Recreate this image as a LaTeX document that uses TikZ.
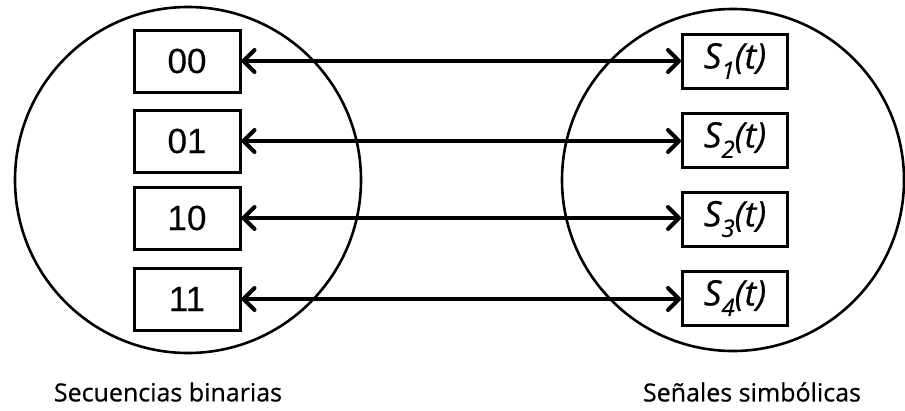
\documentclass[tikz,border=0pt]{standalone}
\usepackage{fontspec}
\setmainfont{Open Sans}[FakeBold=0.6]
\newfontfamily\digitfont{Liberation Sans}[FakeBold=0.2]
\usetikzlibrary{arrows.meta}

\tikzset{
  setcircle/.style={circle, draw, line width=2.6pt, minimum size=#1, inner sep=0pt},
  codebox/.style={draw, line width=3pt, minimum width=106pt, minimum height=62pt,
    inner sep=0pt, font=\digitfont\fontsize{35}{35}\selectfont},
  sigbox/.style={draw, line width=3pt, minimum width=105pt, minimum height=54pt,
    inner sep=0pt, font=\itshape\fontsize{35}{35}\selectfont},
  maparrow/.style={line width=4pt, line cap=round,
    {Straight Barb[length=11pt,width=22pt,line width=4pt,round]}-{Straight Barb[length=11pt,width=22pt,line width=4pt,round]}},
  caption/.style={font=\fontsize{25}{25}\selectfont, inner sep=0pt}
}
\newcommand{\sig}[1]{S\raisebox{-0.3em}{\fontsize{24}{24}\selectfont #1}(t)}

\begin{document}
\begin{tikzpicture}[x=1pt,y=-1pt]
  \useasboundingbox (0,0) rectangle (905,410);

  % the two sets
  \node[setcircle=346pt] (left)  at (188,180) {};
  \node[setcircle=342pt] (right) at (733,180) {};

  % binary sequences
  \node[codebox] (b00) at (187,61)  {00};
  \node[codebox] (b01) at (187,141) {01};
  \node[codebox] (b10) at (187,218) {10};
  \node[codebox] (b11) at (187,299) {11};

  % symbolic signals
  \node[sigbox] (s1) at (735,61)  {\sig{1}};
  \node[sigbox] (s2) at (735,140) {\sig{2}};
  \node[sigbox] (s3) at (735,219) {\sig{3}};
  \node[sigbox] (s4) at (735,298) {\sig{4}};

  % one-to-one mapping
  \draw[maparrow] (b00.east) -- (b00.east -| s1.west);
  \draw[maparrow] (b01.east) -- (b01.east -| s2.west);
  \draw[maparrow] (b10.east) -- (b10.east -| s3.west);
  \draw[maparrow] (b11.east) -- (b11.east -| s4.west);

  % captions
  \node[caption] (capl) at (168,392) {Secuencias binarias};
  \node[caption] (capr) at (752,392) {Señales simbólicas};
\end{tikzpicture}
\end{document}
